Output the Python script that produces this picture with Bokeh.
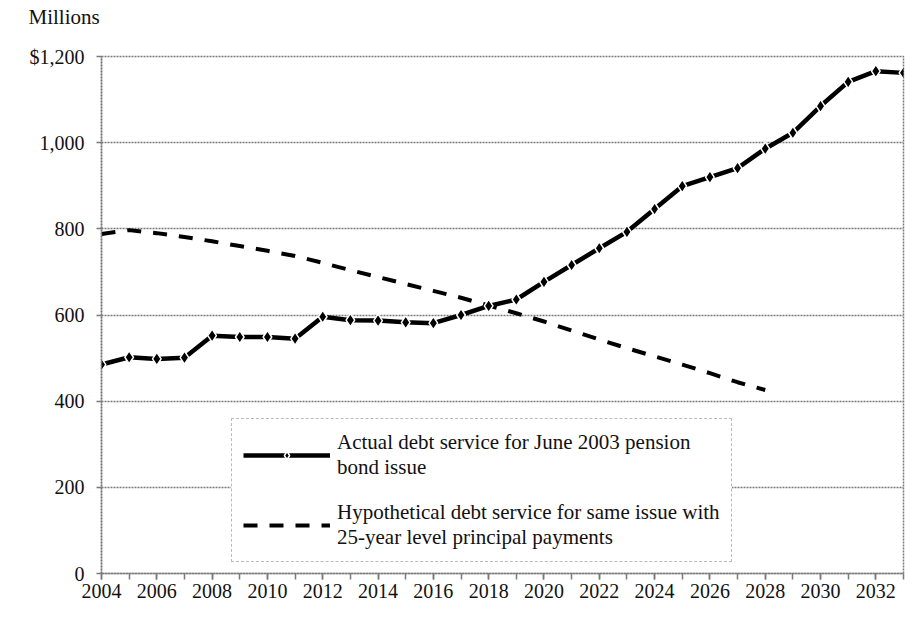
from bokeh.plotting import figure
from bokeh.models import Legend, LegendItem, FixedTicker, SingleIntervalTicker, Range1d
from bokeh.embed import file_html
from bokeh.resources import INLINE

# ---- data ----
years_actual = list(range(2004, 2034))
actual = [485, 502, 498, 501, 552, 549, 549, 545, 596, 588,
          587, 583, 581, 600, 621, 636, 677, 716, 755, 793,
          846, 899, 920, 941, 986, 1023, 1085, 1141, 1166, 1162]
years_hypo = list(range(2004, 2029))
hypothetical = [788, 797, 790, 781, 771, 760, 749, 737, 721, 704,
                688, 672, 656, 640, 622, 604, 585, 564, 543, 523,
                504, 485, 465, 444, 426]
y_ticks = [0, 200, 400, 600, 800, 1000, 1200]
y_tick_labels = ["0", "200", "400", "600", "800", "1,000", "$1,200"]
label_actual = "Actual debt service for June 2003 pension\nbond issue"
label_hypo = "Hypothetical debt service for same issue with\n25-year level principal payments"
y_unit = "Millions"

FONT = "Liberation Serif"
GRID = "#7a7a7a"

p = figure(width=905, height=612, output_backend="svg", toolbar_location=None,
           x_range=Range1d(2004, 2033), y_range=Range1d(0, 1200),
           min_border_left=101, min_border_right=2, min_border_top=56, min_border_bottom=39)

p.title.text = y_unit
p.title.align = "left"
p.title.vertical_align = "top"
p.title.offset = -73
p.title.standoff = 4
p.title.padding = dict(left=0, right=0, top=0, bottom=24)
p.title.text_font = FONT
p.title.text_font_size = "21px"
p.title.text_font_style = "normal"
p.title.text_color = "#111111"

r_hypo = p.line(years_hypo, hypothetical, line_color="black", line_width=4,
                line_dash="14 12", line_cap="butt")
r_act_line = p.line(years_actual, actual, line_color="black", line_width=4.5)
r_act_pts = p.scatter(years_actual, actual, marker="diamond", size=13,
                      fill_color="black", line_color="white", line_width=1.5)

# axes
p.xaxis.ticker = SingleIntervalTicker(interval=2, num_minor_ticks=2)
p.yaxis.ticker = FixedTicker(ticks=y_ticks)
p.yaxis.major_label_overrides = {t: l for t, l in zip(y_ticks, y_tick_labels)}
for ax in (p.xaxis[0], p.yaxis[0]):
    ax.axis_line_color = GRID
    ax.axis_line_width = 1.5
    ax.axis_line_dash = "2 1"
    ax.major_tick_line_color = GRID
    ax.minor_tick_line_color = GRID
    ax.major_tick_line_width = 1.5
    ax.minor_tick_line_width = 1.5
    ax.major_label_text_font = FONT
    ax.major_label_text_font_size = "20px"
    ax.major_label_text_color = "#111111"
p.xaxis.major_tick_in = 0
p.xaxis.major_tick_out = 6
p.xaxis.minor_tick_in = 0
p.xaxis.minor_tick_out = 6
p.xaxis.major_label_standoff = 4
p.yaxis.major_tick_in = 0
p.yaxis.major_tick_out = 5
p.yaxis.minor_tick_line_color = None
p.yaxis.major_label_standoff = 12

p.xgrid.visible = False
p.ygrid.grid_line_color = GRID
p.ygrid.grid_line_width = 1.5
p.ygrid.grid_line_dash = "2 1"

p.outline_line_color = GRID
p.outline_line_width = 1.5
p.outline_line_dash = "2 1"

legend = Legend(items=[LegendItem(label=label_actual, renderers=[r_act_line, r_act_pts]),
                       LegendItem(label=label_hypo, renderers=[r_hypo])],
                location=(130, 11))
legend.label_text_font = FONT
legend.label_text_font_size = "21px"
legend.label_text_color = "#111111"
legend.glyph_width = 87
legend.glyph_height = 20
legend.label_standoff = 7
legend.padding = 11
legend.spacing = 20
legend.margin = 0
legend.border_line_color = GRID
legend.border_line_width = 1.5
legend.border_line_dash = "2 1"
legend.background_fill_color = "white"
legend.background_fill_alpha = 1.0
p.add_layout(legend)

open("out.html", "w").write(file_html(p, INLINE))
